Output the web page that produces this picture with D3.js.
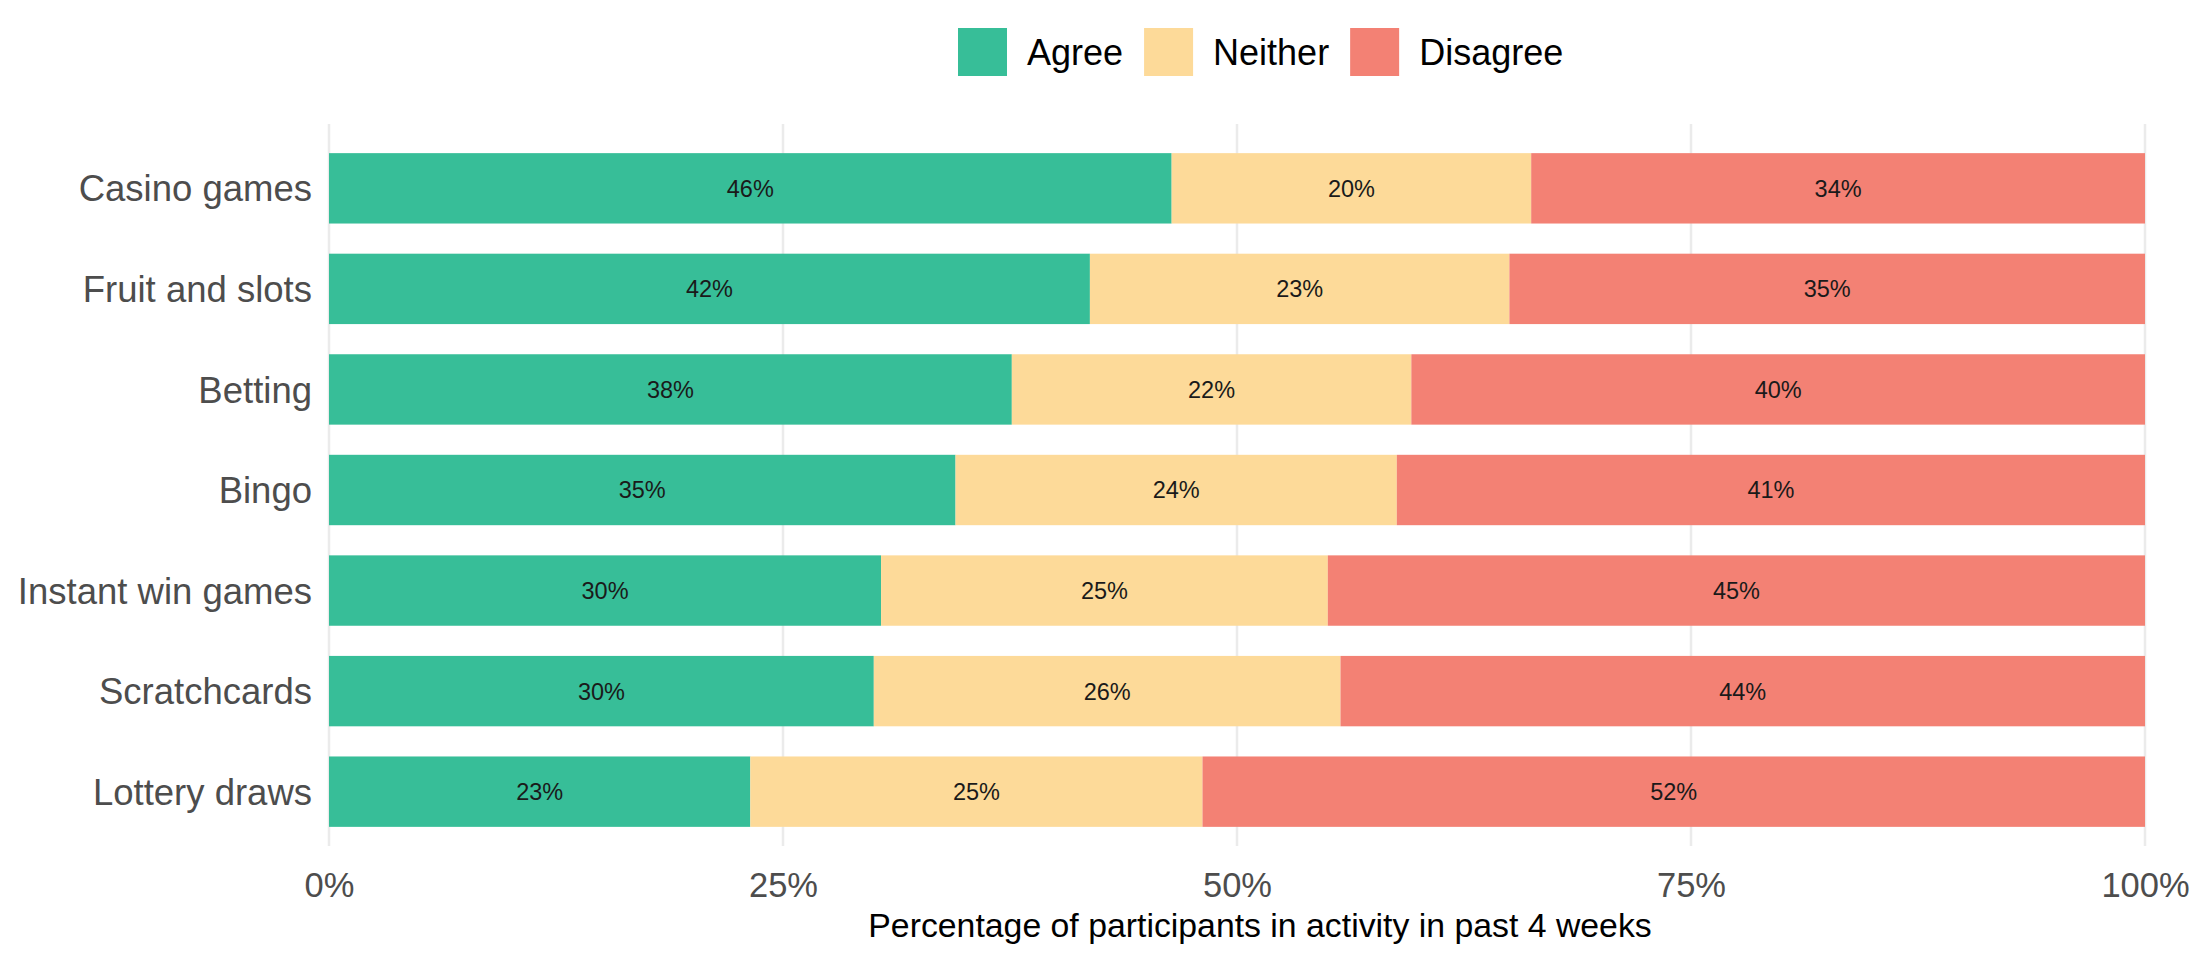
<!DOCTYPE html>
<html><head><meta charset="utf-8">
<script src="https://cdn.jsdelivr.net/npm/d3@7"></script>
<style>html,body{margin:0;padding:0;background:#fff;}svg{display:block;font-family:"Liberation Sans",Arial,sans-serif;}</style>
</head><body>
<script>
const categories = ["Casino games","Fruit and slots","Betting","Bingo","Instant win games","Scratchcards","Lottery draws"];
const agree    = [46.4, 41.9, 37.6, 34.5, 30.4, 30.0, 23.2];
const neither  = [19.8, 23.1, 22.0, 24.3, 24.6, 25.7, 24.9];
const disagree = [33.8, 35.0, 40.4, 41.2, 45.0, 44.3, 51.9];
const seriesNames = ["Agree","Neither","Disagree"];
const seriesColors = ["#37BE98","#FDDA99","#F38174"];
const xTicks = [0, 25, 50, 75, 100];
const xTitle = "Percentage of participants in activity in past 4 weeks";

const W = 2208, H = 957;
const L = 329, R = 2145, T = 128, B = 852;
const svg = d3.select("body").append("svg").attr("width", W).attr("height", H);

const x = d3.scaleLinear().domain([0, 100]).range([L, R]);
const step = (B - T) / (categories.length - 1 + 1.2);
const y = d3.scaleBand().domain(categories)
  .range([T + 0.6*step - step/2, B - 0.6*step + step/2])
  .paddingInner(0.3).paddingOuter(0.15);

// gridlines
svg.append("g").selectAll("line").data(xTicks).join("line")
  .attr("x1", d => x(d)).attr("x2", d => x(d))
  .attr("y1", T - 4).attr("y2", B - 6)
  .attr("stroke", "#ebebeb").attr("stroke-width", 2.5);

// stacked data
const rows = categories.map((c, i) => ({cat: c, Agree: agree[i], Neither: neither[i], Disagree: disagree[i]}));
const stack = d3.stack().keys(seriesNames)(rows);
const color = d3.scaleOrdinal().domain(seriesNames).range(seriesColors);

const layers = svg.append("g").selectAll("g").data(stack).join("g").attr("fill", d => color(d.key));
layers.selectAll("rect").data(d => d).join("rect")
  .attr("x", d => x(d[0])).attr("width", d => x(d[1]) - x(d[0]))
  .attr("y", d => y(d.data.cat)).attr("height", y.bandwidth());

const lab = svg.append("g");
stack.forEach(layer => {
  lab.selectAll(null).data(layer).join("text")
    .attr("x", d => x((d[0] + d[1]) / 2))
    .attr("y", d => y(d.data.cat) + y.bandwidth() / 2)
    .attr("dy", "0.36em").attr("text-anchor", "middle")
    .attr("font-size", 23.5).attr("fill", "#1a1a1a")
    .text(d => Math.round(d[1] - d[0]) + "%");
});

// y axis labels
const yAxis = svg.append("g").attr("transform", `translate(${L - 17},0)`)
  .call(d3.axisLeft(y).tickSize(0).tickPadding(0));
yAxis.select(".domain").remove();
yAxis.selectAll("text").attr("font-size", 36.5).attr("fill", "#4d4d4d")
  .attr("font-family", '"Liberation Sans",Arial,sans-serif').attr("dy", "0.36em");

// x axis labels
const xAxis = svg.append("g").attr("transform", `translate(0,${B + 20})`)
  .call(d3.axisBottom(x).tickValues(xTicks).tickFormat(d => d + "%").tickSize(0).tickPadding(0));
xAxis.select(".domain").remove();
xAxis.selectAll("text").attr("font-size", 34.5).attr("fill", "#4d4d4d")
  .attr("font-family", '"Liberation Sans",Arial,sans-serif').attr("dy", "0.71em");

svg.append("text").attr("x", 1260).attr("y", 925).attr("dy", "0.36em")
  .attr("text-anchor", "middle").attr("font-size", 33.8).attr("fill", "#000").text(xTitle);

// legend
const leg = svg.append("g");
let lx = 958;
seriesNames.forEach((s, i) => {
  leg.append("rect").attr("x", lx).attr("y", 28).attr("width", 49).attr("height", 48).attr("fill", seriesColors[i]);
  const t = leg.append("text").attr("x", lx + 69).attr("y", 52).attr("dy", "0.36em")
    .attr("font-size", 36).attr("fill", "#000").text(s);
  lx = lx + 69 + t.node().getComputedTextLength() + 21;
});
</script>
</body></html>
